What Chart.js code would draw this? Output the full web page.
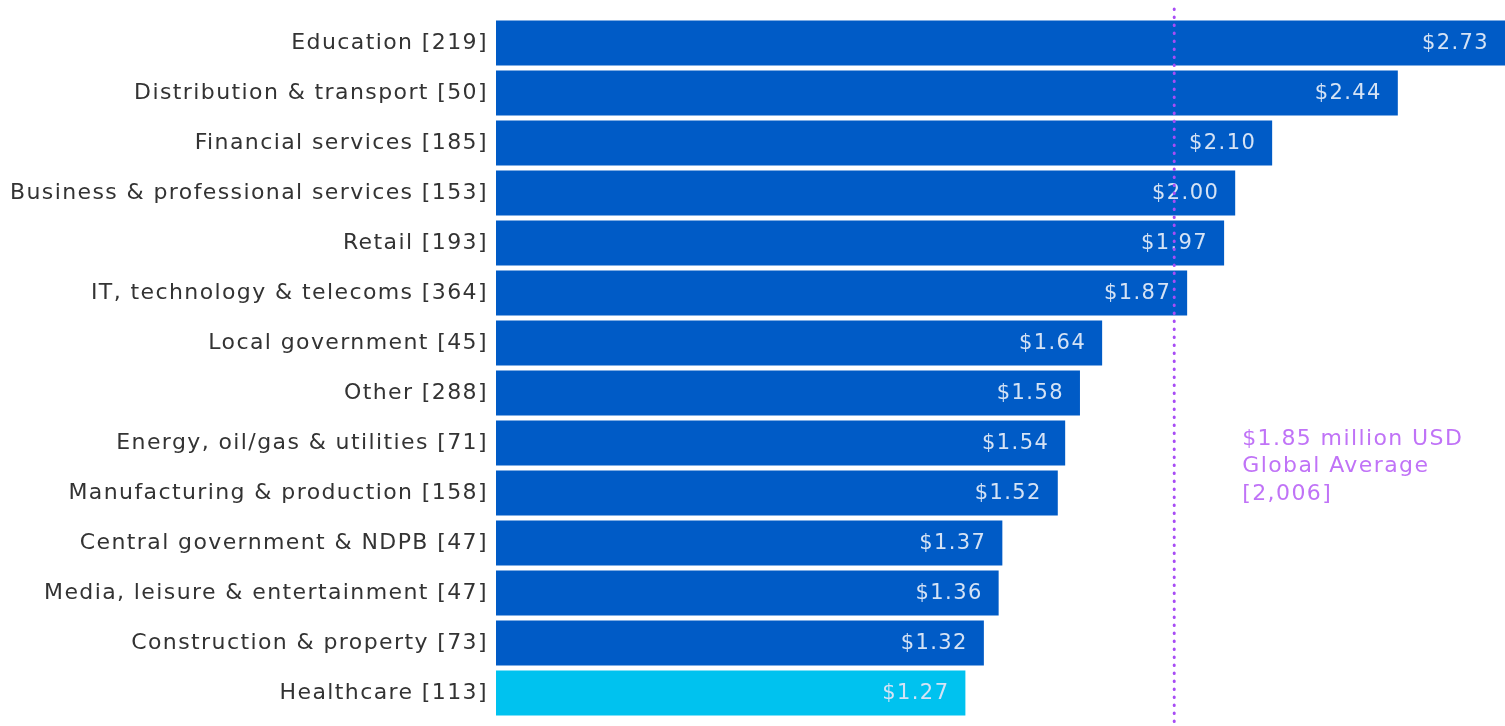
<!DOCTYPE html>
<html>
<head>
<meta charset="utf-8">
<script src="https://cdn.jsdelivr.net/npm/chart.js@4"></script>
<style>
html, body { margin: 0; padding: 0; background: #fff; overflow: hidden; }
#wrap { width: 1505px; height: 726px; position: relative; }
</style>
</head>
<body>
<div id="wrap"><canvas id="costChart"></canvas></div>
<script>
// sectors with respondent counts
var sectors = [
	'Education [219]',
	'Distribution & transport [50]',
	'Financial services [185]',
	'Business & professional services [153]',
	'Retail [193]',
	'IT, technology & telecoms [364]',
	'Local government [45]',
	'Other [288]',
	'Energy, oil/gas & utilities [71]',
	'Manufacturing & production [158]',
	'Central government & NDPB [47]',
	'Media, leisure & entertainment [47]',
	'Construction & property [73]',
	'Healthcare [113]'
];
// average cost, million USD
var costs = [2.73, 2.44, 2.10, 2.00, 1.97, 1.87, 1.64, 1.58, 1.54, 1.52, 1.37, 1.36, 1.32, 1.27];
var highlight = 'Healthcare [113]';

// global average line (position)
var avgLine = 1.835;
var avgText = ['$1.85 million USD', 'Global Average', '[2,006]'];

var barColors = sectors.map(function(s) { return s == highlight ? '#00C2EF' : '#005BC6'; });

var fontFamily = '"DejaVu Sans", sans-serif';
var spacing = '1.4px';

// the original font is wide, so space the letters a bit
var letterSpacing = {
	id: 'letterSpacing',
	beforeInit: function(chart) { chart.ctx.letterSpacing = spacing; },
	beforeDraw: function(chart) { chart.ctx.letterSpacing = spacing; }
};

// value labels inside bars
var valueLabels = {
	id: 'valueLabels',
	afterDatasetsDraw: function(chart) {
		var ctx = chart.ctx;
		var meta = chart.getDatasetMeta(0);
		ctx.save();
		ctx.font = '21px ' + fontFamily;
		ctx.fillStyle = '#D5E3F5';
		ctx.textAlign = 'right';
		ctx.textBaseline = 'middle';
		meta.data.forEach(function(bar, i) {
			ctx.fillText('$' + costs[i].toFixed(2), bar.x - 16, bar.y + 1);
		});
		ctx.restore();
	}
};

// dotted average line + note
var averageLine = {
	id: 'averageLine',
	afterDatasetsDraw: function(chart) {
		var ctx = chart.ctx;
		var x = chart.scales.x.getPixelForValue(avgLine);
		var yScale = chart.scales.y;
		ctx.save();
		ctx.strokeStyle = '#A84CF5';
		ctx.lineWidth = 3;
		ctx.lineCap = 'round';
		ctx.setLineDash([0.5, 7.5]);
		ctx.beginPath();
		ctx.moveTo(x, 9);
		ctx.lineTo(x, chart.height);
		ctx.stroke();
		ctx.setLineDash([]);
		ctx.font = '22px ' + fontFamily;
		ctx.fillStyle = '#C073F7';
		ctx.textAlign = 'left';
		ctx.textBaseline = 'middle';
		var y0 = yScale.getPixelForValue(8) - 4;
		avgText.forEach(function(t, i) {
			ctx.fillText(t, x + 68, y0 + i * 27.5);
		});
		ctx.restore();
	}
};

var ctx = document.getElementById('costChart').getContext('2d');
var costChart = new Chart(ctx, {
	type: 'bar',
	data: {
		labels: sectors,
		datasets: [{
			data: costs,
			backgroundColor: barColors,
			barPercentage: 0.9,
			categoryPercentage: 1.0
		}]
	},
	options: {
		indexAxis: 'y',
		responsive: true,
		maintainAspectRatio: false,
		animation: false,
		layout: { padding: { top: 18, bottom: 8, left: 0, right: 0 } },
		plugins: {
			legend: { display: false },
			tooltip: { enabled: false }
		},
		scales: {
			x: {
				display: false,
				min: 0,
				max: 2.73
			},
			y: {
				grid: { display: false, drawTicks: false },
				border: { display: false },
				ticks: {
					color: '#333333',
					padding: 8,
					font: { family: fontFamily, size: 22 }
				},
				afterFit: function(axis) {
					axis.width = 496;
					axis.paddingTop = 0;
					axis.paddingBottom = 0;
				}
			}
		}
	},
	plugins: [letterSpacing, valueLabels, averageLine]
});
</script>
</body>
</html>
